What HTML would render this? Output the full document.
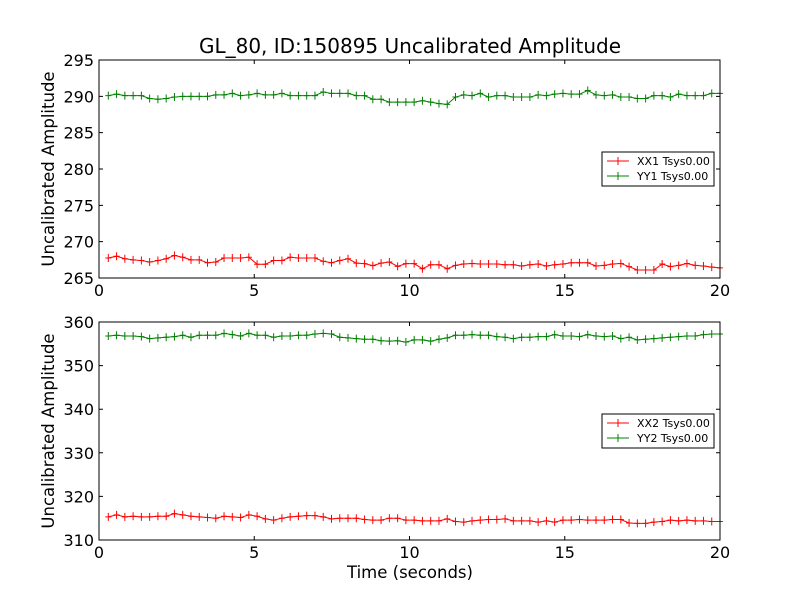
<!DOCTYPE html>
<html><head><meta charset="utf-8"><style>
body{margin:0;background:#fff;}
svg{display:block;font-family:"DejaVu Sans","Liberation Sans",sans-serif;}
</style></head><body>
<svg id="c" width="800" height="600"></svg>
<script>
const xTicks=[0,5,10,15,20];
const topYTicks=[265,270,275,280,285,290,295];
const botYTicks=[310,320,330,340,350,360];
const xx1=[267.75,268.0,267.65,267.5,267.4,267.2,267.4,267.65,268.1,267.85,267.5,267.5,267.1,267.2,267.75,267.75,267.75,267.85,266.9,266.9,267.4,267.4,267.85,267.75,267.75,267.75,267.3,267.1,267.4,267.65,267.05,266.97,266.7,267.05,267.2,266.6,266.97,266.97,
266.28,266.83,266.83,266.28,266.74,266.92,267.0,266.92,266.92,266.92,266.83,266.83,266.65,266.83,266.92,266.65,266.83,266.92,267.1,267.1,267.1,266.65,266.74,266.92,267.0,266.56,266.1,266.1,266.1,266.92,266.56,266.74,267.0,266.74,266.65,266.5,266.4];
const yy1=[290.1,290.3,290.1,290.1,290.1,289.7,289.6,289.7,289.9,290.0,290.0,290.0,290.0,290.2,290.2,290.4,290.1,290.2,290.4,290.2,290.2,290.4,290.1,290.1,290.1,290.1,290.6,290.4,290.4,290.4,290.1,290.1,289.6,289.6,289.2,289.2,289.2,289.2,
289.4,289.2,289.0,288.9,289.9,290.2,290.1,290.4,289.9,290.1,290.1,289.9,289.9,289.9,290.2,290.1,290.3,290.4,290.3,290.3,290.8,290.2,290.1,290.2,289.9,289.9,289.7,289.7,290.1,290.1,289.9,290.3,290.1,290.1,290.1,290.4,290.4];
const xx2=[315.3,315.75,315.3,315.45,315.3,315.3,315.45,315.45,316.05,315.75,315.45,315.3,315.15,315.0,315.45,315.3,315.15,315.75,315.45,314.85,314.55,315.0,315.3,315.45,315.6,315.6,315.3,314.85,315.0,315.0,315.0,314.7,314.55,314.55,315.0,315.0,314.55,314.55,
314.4,314.4,314.4,314.85,314.25,314.1,314.4,314.55,314.7,314.7,314.85,314.4,314.4,314.4,314.1,314.4,314.1,314.55,314.55,314.7,314.55,314.55,314.55,314.7,314.7,313.9,313.8,313.8,314.1,314.25,314.55,314.4,314.55,314.4,314.4,314.25,314.25];
const yy2=[356.8,356.95,356.8,356.8,356.65,356.2,356.35,356.5,356.65,356.95,356.5,356.95,356.95,356.95,357.4,357.1,356.8,357.4,356.95,356.95,356.5,356.8,356.8,356.95,356.95,357.25,357.4,357.25,356.5,356.35,356.2,356.05,356.05,355.7,355.6,355.7,355.4,355.9,
355.9,355.6,356.05,356.35,356.95,356.95,357.1,356.95,356.95,356.65,356.5,356.2,356.5,356.5,356.65,356.65,357.1,356.8,356.8,356.65,357.1,356.8,356.65,356.8,356.2,356.5,355.9,356.05,356.2,356.35,356.5,356.65,356.8,356.8,357.1,357.25,357.25];
const tStart=0.3, tEnd=20;
const NS='http://www.w3.org/2000/svg';
const svg=document.getElementById('c');
function mk(tag,attrs,parent){const e=document.createElementNS(NS,tag);for(const k in attrs)e.setAttribute(k,attrs[k]);(parent||svg).appendChild(e);return e;}
const X0=99,X1=720;
function sx(v){return X0+(v-0)/(20-0)*(X1-X0);}
function tAt(i,n){return tStart+i*(tEnd-tStart)/(n-1);}
function panel(name,top,bot,ymin,ymax,yt,series,legTop,xlabel){
  const sy=v=>bot-(v-ymin)/(ymax-ymin)*(bot-top);
  const g=mk('g',{});
  
  
  series.forEach(s=>{
    const n=s.vals.length;
    const pts=s.vals.map((v,i)=>sx(tAt(i,n)).toFixed(2)+','+sy(v).toFixed(2)).join(' ');
    const sg=mk('g',{},g);
    
    
    mk('polyline',{points:pts,fill:'none',stroke:s.color,'stroke-width':1},sg);
    s.vals.forEach((v,i)=>{const x=sx(tAt(i,n)),y=sy(v);
      const m=mk('path',{d:`M${x-3},${y}H${x+3}M${x},${y-4}V${y+4}`,stroke:s.color,'stroke-width':1},sg);
      
      });
  });
  const fr=mk('rect',{x:X0,y:top,width:X1-X0,height:bot-top,fill:'none',stroke:'#000','stroke-width':1},g);
  
  
  xTicks.forEach(t=>{const x=sx(t);
    mk('path',{d:`M${x},${bot}v-4M${x},${top}v4`,stroke:'#000'},g);
    const l=mk('text',{x:x,y:bot+18,'font-size':16,'text-anchor':'middle'},g);l.textContent=t;
    
    });
  yt.forEach(t=>{const y=sy(t);
    mk('path',{d:`M${X0},${y}h4M${X1},${y}h-4`,stroke:'#000'},g);
    const l=mk('text',{x:X0-5,y:y+6,'font-size':16,'text-anchor':'end'},g);l.textContent=t;
    
    });
  const yl=mk('text',{x:0,y:0,'font-size':16.5,'text-anchor':'middle',transform:`translate(54,${(top+bot)/2}) rotate(-90)`},g);
  yl.textContent='Uncalibrated Amplitude';
  
  
  const lg=mk('g',{},g);
  
  
  mk('rect',{x:602,y:legTop,width:112,height:34,fill:'#fff',stroke:'#000'},lg);
  series.forEach((s,k)=>{const y=legTop+9+k*15;
    const e=mk('g',{},lg);
    
    
    mk('path',{d:`M607,${y}h22M618,${y-4}v8`,stroke:s.color},e);
    const t=mk('text',{x:637,y:y+4,'font-size':11},e);t.textContent=s.label;});
  if(xlabel){const xl=mk('text',{x:410,y:578,'font-size':16.5,'text-anchor':'middle'},g);xl.textContent=xlabel;
    
    }
}
const title=mk('text',{x:410,y:53,'font-size':20,'text-anchor':'middle'});
title.textContent='GL_80, ID:150895 Uncalibrated Amplitude';


panel('top-panel',60,278,265,295,topYTicks,[{name:'xx1',vals:xx1,color:'#ff0000',label:'XX1 Tsys0.00'},{name:'yy1',vals:yy1,color:'#008000',label:'YY1 Tsys0.00'}],152,null);
panel('bottom-panel',322,540,310,360,botYTicks,[{name:'xx2',vals:xx2,color:'#ff0000',label:'XX2 Tsys0.00'},{name:'yy2',vals:yy2,color:'#008000',label:'YY2 Tsys0.00'}],414,'Time (seconds)');
</script>
</body></html>
